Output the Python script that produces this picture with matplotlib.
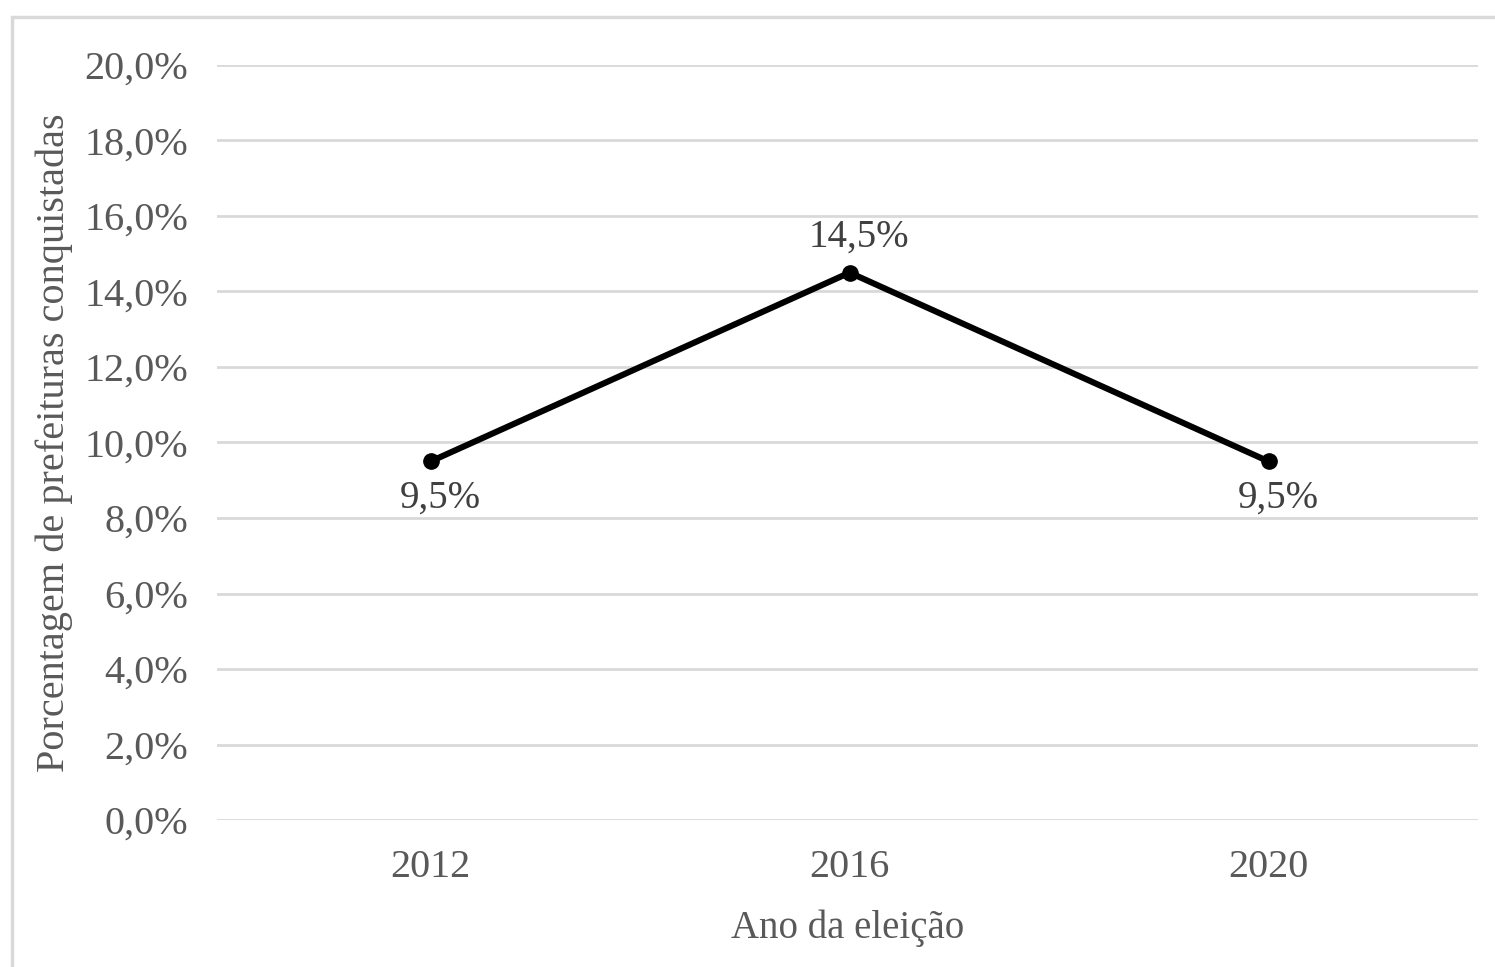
import matplotlib.pyplot as plt
from matplotlib.patches import Rectangle
from matplotlib.ticker import FuncFormatter

# Share of city halls won per election year
anos = ['2012', '2016', '2020']
porcentagens = [9.5, 14.5, 9.5]
rotulos = ['9,5%', '14,5%', '9,5%']
posicao_rotulo = ['below', 'above', 'below']

cinza = '#595959'
plt.rcParams['font.family'] = ['Liberation Serif', 'DejaVu Serif']

fig = plt.figure(figsize=(14.95, 9.67), dpi=100)
ax = fig.add_axes([0.1452, 0.152, 0.8434, 0.7808])

# Light border round the chart area
fig.patches.append(Rectangle((0.008, -0.01), 1.0, 0.9924, transform=fig.transFigure,
                             fill=False, edgecolor='#d9d9d9', linewidth=2.5))

x = [i + 0.5 for i in range(len(anos))]
ax.plot(x, porcentagens, color='black', linewidth=4.4, marker='o',
        markersize=11, solid_capstyle='round', zorder=3)

for xi, yi, txt, pos in zip(x, porcentagens, rotulos, posicao_rotulo):
    dy = 12 if pos == 'above' else -13
    va = 'bottom' if pos == 'above' else 'top'
    ax.annotate(txt, (xi, yi), xytext=(7, dy), textcoords='offset points',
                ha='center', va=va, fontsize=28, color='#404040')

ax.set_xlim(-0.01, 3)
ax.set_ylim(0, 20)
ax.set_xticks(x)
ax.set_xticklabels(anos)
ax.set_yticks(range(0, 21, 2))
ax.yaxis.set_major_formatter(FuncFormatter(lambda v, _: f'{v:.1f}%'.replace('.', ',')))

ax.grid(axis='y', color='#d9d9d9', linewidth=2)
ax.set_axisbelow(True)
for s in ax.spines.values():
    s.set_visible(False)
ax.tick_params(length=0, labelsize=29, colors=cinza)
ax.tick_params(axis='y', pad=21)
ax.tick_params(axis='x', pad=21)

ax.set_xlabel('Ano da eleição', fontsize=28, color=cinza, labelpad=17)
ax.set_ylabel('Porcentagem de prefeituras conquistadas', fontsize=29, color=cinza, labelpad=8)

plt.savefig('out.png', dpi=100)
